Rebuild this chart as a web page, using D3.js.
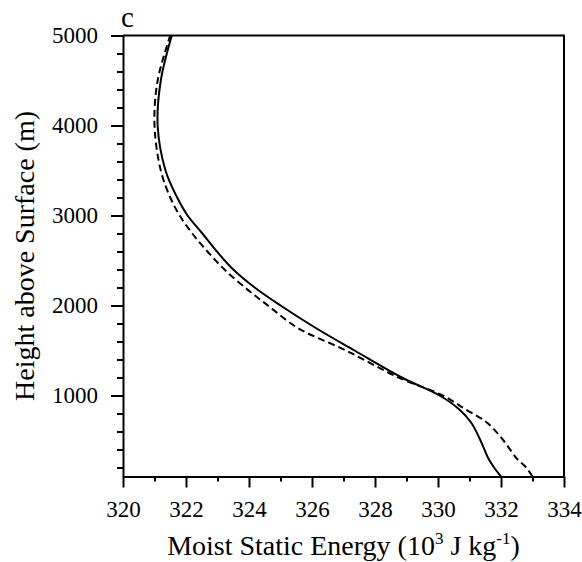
<!DOCTYPE html>
<html>
<head>
<meta charset="utf-8">
<script src="https://cdn.jsdelivr.net/npm/d3@7"></script>
<style>
    body { margin: 0; background: #fff; }
    text { font-family: "Liberation Serif", "Times New Roman", serif; fill: #000; }
</style>
</head>
<body>
<div id="chart"></div>
<script>

// heights (m) shared by both profiles
let heights = [100, 200, 300, 500, 700, 850, 1000, 1200, 1500, 1750, 2000, 2200, 2400, 2600, 2800, 3000, 3200, 3500, 4000, 4500, 5000];

// moist static energy, 10^3 J/kg
let mseSolid  = [332.0, 331.78, 331.6, 331.35, 331.05, 330.66, 330.05, 328.85, 327.35, 326.12, 325.0, 324.18, 323.5, 322.98, 322.52, 322.05, 321.72, 321.35, 321.1, 321.2, 321.55];
let mseDashed = [333.0, 332.8, 332.5, 332.08, 331.55, 330.86, 330.15, 328.75, 327.08, 325.55, 324.6, 323.87, 323.22, 322.68, 322.2, 321.8, 321.5, 321.2, 321.0, 321.1, 321.5];

let xTicks = [320, 322, 324, 326, 328, 330, 332, 334];
let xMinor = [321, 323, 325, 327, 329, 331, 333];
let yTicks = [1000, 2000, 3000, 4000, 5000];
let yMinor = [200, 400, 600, 800, 1200, 1400, 1600, 1800, 2200, 2400, 2600, 2800, 3200, 3400, 3600, 3800, 4200, 4400, 4600, 4800];

let margin = {top: 35.5, right: 18, bottom: 85.5, left: 123};
let width = 582 - margin.left - margin.right;
let height = 562 - margin.top - margin.bottom;

let svg = d3.select("#chart").append("svg")
    .attr("width", 582)
    .attr("height", 562);

let g = svg.append("g")
    .attr("transform", `translate(${margin.left}, ${margin.top})`);

let x = d3.scaleLinear().domain([320, 334]).range([0, width]);
let y = d3.scaleLinear().domain([100, 5000]).range([height, 0]);

// minor ticks first, so major axes sit on top
g.append("g")
    .attr("transform", `translate(0, ${height})`)
    .call(d3.axisBottom(x).tickValues(xMinor).tickSize(5).tickFormat(""))
    .call(a => a.select(".domain").remove());

g.append("g")
    .call(d3.axisLeft(y).tickValues(yMinor).tickSize(6).tickFormat(""))
    .call(a => a.select(".domain").remove());

let xAxis = g.append("g")
    .attr("transform", `translate(0, ${height})`)
    .call(d3.axisBottom(x).tickValues(xTicks).tickSize(11).tickSizeOuter(0).tickPadding(13).tickFormat(d3.format("d")));

let yAxis = g.append("g")
    .call(d3.axisLeft(y).tickValues(yTicks).tickSize(12).tickSizeOuter(0).tickPadding(13).tickFormat(d3.format("d")));

[xAxis, yAxis].forEach(a => {
    a.selectAll("text").style("font-size", "23px").attr("font-family", null);
    a.selectAll("line, path").attr("stroke-width", 2);
});
g.selectAll(".tick line").attr("stroke-width", 2);

// frame (top and right sides)
g.append("path")
    .attr("d", `M0,0H${width}V${height}`)
    .attr("fill", "none")
    .attr("stroke", "#000")
    .attr("stroke-width", 2);

let line = (vals) => d3.line()
    .x((d, i) => x(vals[i]))
    .y(d => y(d))
    .curve(d3.curveCatmullRom.alpha(0.5))(heights);

g.append("path")
    .attr("d", line(mseSolid))
    .attr("fill", "none")
    .attr("stroke", "#000")
    .attr("stroke-width", 2);

g.append("path")
    .attr("d", line(mseDashed))
    .attr("fill", "none")
    .attr("stroke", "#000")
    .attr("stroke-width", 2)
    .attr("stroke-dasharray", "7,4");

// panel letter
svg.append("text")
    .attr("x", 121)
    .attr("y", 26.5)
    .style("font-size", "29px")
    .text("c");

// axis titles
let xTitle = svg.append("text")
    .attr("x", margin.left + width / 2)
    .attr("y", 555)
    .attr("text-anchor", "middle")
    .style("font-size", "28px");
xTitle.append("tspan").text("Moist Static Energy (10");
xTitle.append("tspan").attr("dy", -11).style("font-size", "17px").text("3");
xTitle.append("tspan").attr("dy", 11).text(" J kg");
xTitle.append("tspan").attr("dy", -11).style("font-size", "17px").text("-1");
xTitle.append("tspan").attr("dy", 11).text(")");

svg.append("text")
    .attr("transform", `translate(34, ${margin.top + height / 2}) rotate(-90)`)
    .attr("text-anchor", "middle")
    .style("font-size", "28px")
    .text("Height above Surface (m)");

</script>
</body>
</html>
